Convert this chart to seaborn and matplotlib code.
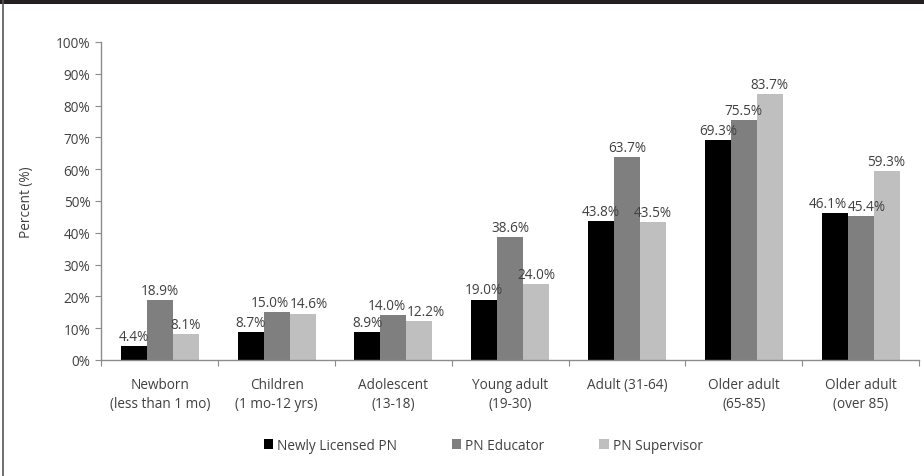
import matplotlib
matplotlib.use("Agg")
import matplotlib.pyplot as plt
from matplotlib.lines import Line2D
from matplotlib.patches import Rectangle
from matplotlib.ticker import FixedLocator, PercentFormatter
import seaborn as sns
import pandas as pd

categories = [
    "Newborn\n(less than 1 mo)",
    "Children\n(1 mo-12 yrs)",
    "Adolescent\n(13-18)",
    "Young adult\n(19-30)",
    "Adult (31-64)",
    "Older adult\n(65-85)",
    "Older adult\n(over 85)",
]
series_names = ["Newly Licensed PN", "PN Educator", "PN Supervisor"]
newly_licensed = [4.4, 8.7, 8.9, 19.0, 43.8, 69.3, 46.1]
pn_educator = [18.9, 15.0, 14.0, 38.6, 63.7, 75.5, 45.4]
pn_supervisor = [8.1, 14.6, 12.2, 24.0, 43.5, 83.7, 59.3]
colors = ["#000000", "#7f7f7f", "#bfbfbf"]

rows = []
for name, vals in zip(series_names, [newly_licensed, pn_educator, pn_supervisor]):
    for cat, v in zip(categories, vals):
        rows.append({"Age group": cat, "Role": name, "Percent": v})
df = pd.DataFrame(rows)

sns.set_theme(style="white")
plt.rcParams["font.family"] = ["Open Sans", "DejaVu Sans"]
text_color = "#404040"
axis_color = "#8c8c8c"
fs = 9.8
DPI = 100

fig = plt.figure(figsize=(9.24, 4.77), dpi=DPI)
ax = fig.add_axes([0.1098, 0.2432, 0.8848, 0.6667])

sns.barplot(data=df, x="Age group", y="Percent", hue="Role",
            order=categories, hue_order=series_names, palette=colors,
            width=0.667, dodge=True, saturation=1, errorbar=None,
            linewidth=0, ax=ax, legend=True)

label_sets = []
for cont in ax.containers:
    label_sets.append(ax.bar_label(cont, fmt="%.1f%%", padding=1.5,
                                   fontsize=fs, color=text_color))

ax.set_ylim(0, 100)
ax.set_xlim(-0.5, len(categories) - 0.5)
ax.set_yticks(range(0, 101, 10))
ax.yaxis.set_major_formatter(PercentFormatter(decimals=0))
ax.set_xlabel("")
ax.set_ylabel("Percent (%)", fontsize=fs, color=text_color, labelpad=16)

ax.tick_params(axis="y", which="major", direction="out", length=4, width=0.8,
               color=axis_color, labelsize=fs, labelcolor=text_color, pad=4, left=True)
ax.tick_params(axis="x", which="major", length=0, labelsize=fs,
               labelcolor=text_color, pad=12)
ax.xaxis.set_minor_locator(FixedLocator([i - 0.5 for i in range(len(categories) + 1)]))
ax.tick_params(axis="x", which="minor", direction="out", length=4, width=0.8,
               color=axis_color, bottom=True)
for lbl in ax.get_xticklabels():
    lbl.set_linespacing(1.35)

for side in ["top", "right"]:
    ax.spines[side].set_visible(False)
for side in ["left", "bottom"]:
    ax.spines[side].set_color(axis_color)
    ax.spines[side].set_linewidth(1.0)

handles = [Rectangle((0, 0), 1, 1, facecolor=c, edgecolor="none") for c in colors]
ax.legend(handles, series_names, loc="center", bbox_to_anchor=(0.523, 0.064),
          bbox_transform=fig.transFigure, ncol=3, frameon=False,
          handlelength=0.7, handleheight=0.7, handletextpad=0.3,
          columnspacing=4.0, prop={"size": fs}, labelcolor=text_color)

# push neighbouring value labels apart sideways when they collide
fig.canvas.draw()
renderer = fig.canvas.get_renderer()
gap_px = 1.0
for j in range(len(categories)):
    group = [ls[j] for ls in label_sets]
    for _ in range(4):
        moved = False
        for k in range(len(group) - 1):
            a = group[k].get_window_extent(renderer)
            b = group[k + 1].get_window_extent(renderer)
            vert = min(a.y1, b.y1) - max(a.y0, b.y0)
            horiz = a.x1 + gap_px - b.x0
            if vert > 0 and horiz > 0:
                shift_pt = horiz / 2 * 72 / DPI
                xa, ya = group[k].xyann
                group[k].xyann = (xa - shift_pt, ya)
                xb, yb = group[k + 1].xyann
                group[k + 1].xyann = (xb + shift_pt, yb)
                moved = True
        if not moved:
            break

# header band and left frame line
fig.add_artist(Rectangle((0, 1 - 5 / 477), 1, 5 / 477, transform=fig.transFigure,
                         facecolor="#231f20", edgecolor="none"))
fig.add_artist(Line2D([3 / 924, 3 / 924], [0, 1], transform=fig.transFigure,
                      color="#555555", linewidth=1.2))

fig.savefig("out.png", dpi=DPI)
